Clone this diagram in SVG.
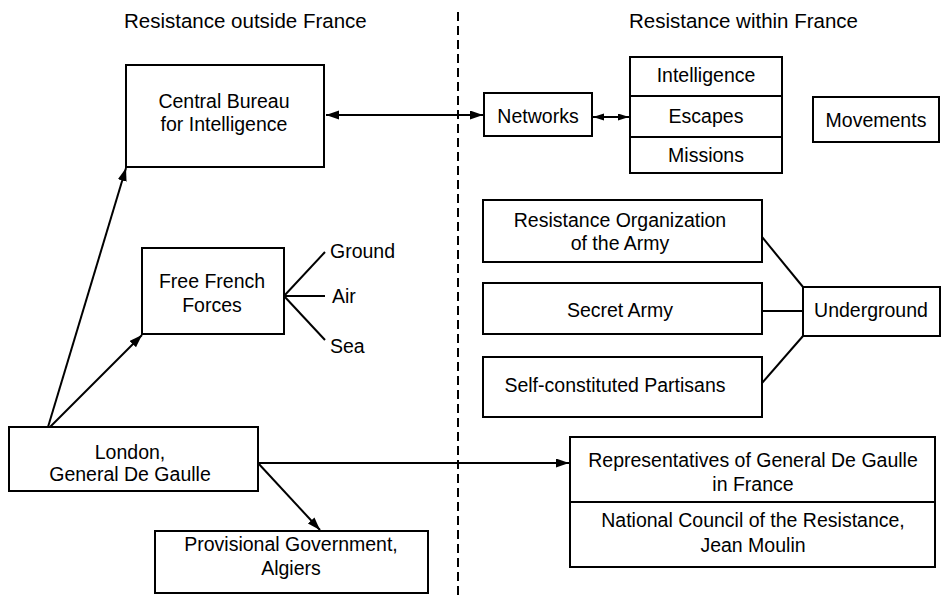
<svg xmlns="http://www.w3.org/2000/svg" width="942" height="595" viewBox="0 0 942 595">
<style>
rect.b{fill:#fff;stroke:#000;stroke-width:2}
line.c{stroke:#000;stroke-width:2}
text{font-family:"Liberation Sans",Arial,sans-serif;font-size:19.5px;fill:#000}
.m{text-anchor:middle}
.t{font-size:20.5px}
</style>
<defs>
<marker id="ah" markerUnits="userSpaceOnUse" markerWidth="14" markerHeight="10" refX="13" refY="4.5" orient="auto-start-reverse"><path d="M0,0 L13,4.5 L0,9 z" fill="#000"/></marker>
<marker id="as" markerUnits="userSpaceOnUse" markerWidth="12" markerHeight="8" refX="11" refY="3.5" orient="auto-start-reverse"><path d="M0,0 L11,3.5 L0,7 z" fill="#000"/></marker>
</defs>
<rect width="942" height="595" fill="#fff"/>
<g id="titles">
<text class="t" x="124" y="28">Resistance outside France</text>
<text class="t" x="629" y="28">Resistance within France</text>
</g>
<line id="divider" x1="458" y1="12" x2="458" y2="595" stroke="#000" stroke-width="2" stroke-dasharray="9 5"/>
<g id="connectors">
<line class="c" x1="326" y1="115" x2="483" y2="115" marker-start="url(#ah)" marker-end="url(#ah)"/>
<line class="c" x1="593" y1="117" x2="629" y2="117" marker-start="url(#as)" marker-end="url(#as)"/>
<line class="c" x1="48" y1="427" x2="126" y2="168" marker-end="url(#ah)"/>
<line class="c" x1="50" y1="427" x2="142" y2="335" marker-end="url(#ah)"/>
<line class="c" x1="258" y1="463" x2="569" y2="463" marker-end="url(#ah)"/>
<line class="c" x1="258" y1="463" x2="320" y2="530" marker-end="url(#ah)"/>
<line class="c" x1="284" y1="296" x2="325" y2="252"/>
<line class="c" x1="284" y1="296" x2="325" y2="296"/>
<line class="c" x1="284" y1="296" x2="325" y2="340"/>
<line class="c" x1="762" y1="237" x2="803" y2="287"/>
<line class="c" x1="762" y1="311" x2="803" y2="311"/>
<line class="c" x1="762" y1="383" x2="803" y2="336"/>
</g>
<g id="central-bureau">
<rect class="b" x="126" y="65" width="198" height="102"/>
<text class="m" x="224" y="108">Central Bureau</text>
<text class="m" x="224" y="131">for Intelligence</text>
</g>
<g id="networks">
<rect class="b" x="484" y="93" width="108" height="43"/>
<text class="m" x="538" y="123">Networks</text>
</g>
<g id="stack">
<rect class="b" x="630" y="57" width="152" height="116"/>
<line class="c" x1="630" y1="96" x2="782" y2="96"/>
<line class="c" x1="630" y1="137" x2="782" y2="137"/>
<text class="m" x="706" y="82">Intelligence</text>
<text class="m" x="706" y="123">Escapes</text>
<text class="m" x="706" y="162">Missions</text>
</g>
<g id="movements">
<rect class="b" x="813" y="97" width="126" height="45"/>
<text class="m" x="876" y="127">Movements</text>
</g>
<g id="free-french">
<rect class="b" x="142" y="248" width="142" height="86"/>
<text class="m" x="212" y="288">Free French</text>
<text class="m" x="212" y="312">Forces</text>
</g>
<g id="branches">
<text x="330" y="258">Ground</text>
<text x="332" y="303">Air</text>
<text x="330" y="353">Sea</text>
</g>
<g id="roa">
<rect class="b" x="483" y="200" width="279" height="62"/>
<text class="m" x="620" y="227">Resistance Organization</text>
<text class="m" x="620" y="250">of the Army</text>
</g>
<g id="secret-army">
<rect class="b" x="483" y="283" width="279" height="51"/>
<text class="m" x="620" y="317">Secret Army</text>
</g>
<g id="partisans">
<rect class="b" x="483" y="357" width="279" height="60"/>
<text class="m" x="615" y="392">Self-constituted Partisans</text>
</g>
<g id="underground">
<rect class="b" x="803" y="287" width="137" height="49"/>
<text class="m" x="871" y="317">Underground</text>
</g>
<g id="london">
<rect class="b" x="9" y="427" width="249" height="64"/>
<text class="m" x="130" y="459">London,</text>
<text class="m" x="130" y="481">General De Gaulle</text>
</g>
<g id="provisional">
<rect class="b" x="155" y="531" width="273" height="62"/>
<text class="m" x="291" y="551">Provisional Government,</text>
<text class="m" x="291" y="575">Algiers</text>
</g>
<g id="representatives">
<rect class="b" x="570" y="437" width="365" height="130"/>
<line class="c" x1="570" y1="502" x2="935" y2="502"/>
<text class="m" x="753" y="467">Representatives of General De Gaulle</text>
<text class="m" x="753" y="491">in France</text>
<text class="m" x="753" y="527">National Council of the Resistance,</text>
<text class="m" x="753" y="552">Jean Moulin</text>
</g>
</svg>
